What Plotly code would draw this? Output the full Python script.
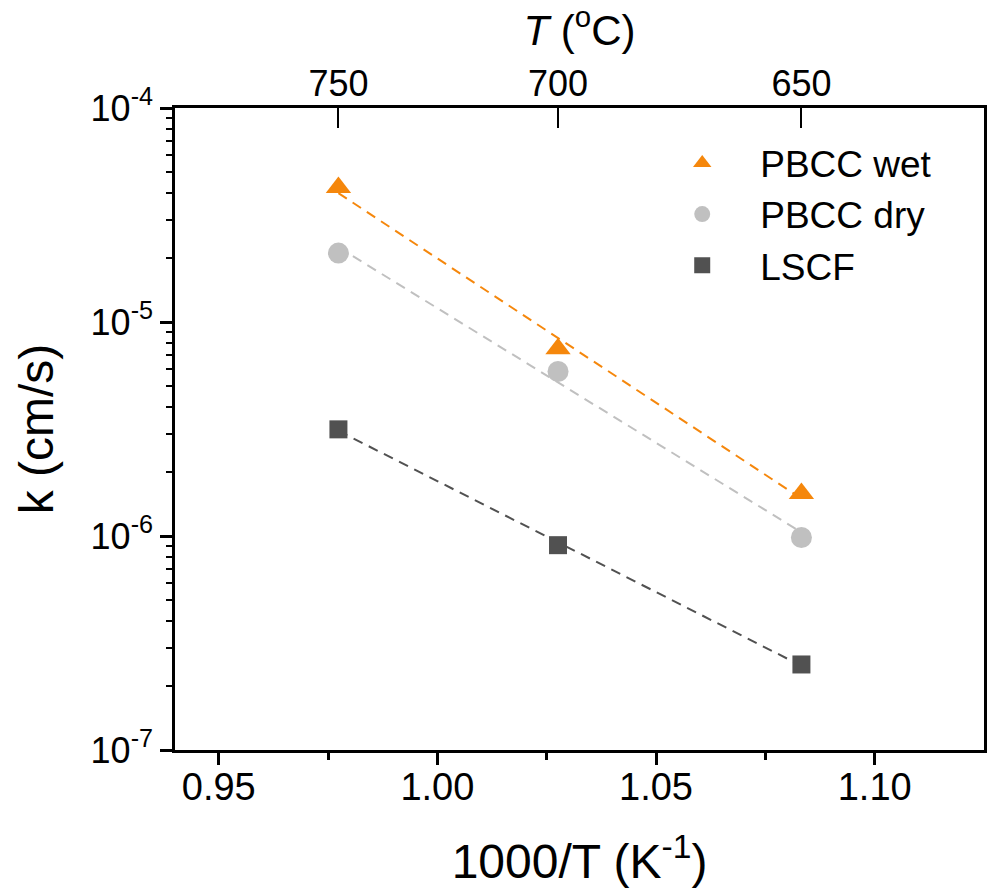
import numpy as np
import plotly.graph_objects as go

# ---- data ----
temps_c = [750, 700, 650]
inv_T = [1000.0 / (t + 273.15) for t in temps_c]
k_wet = [4.25e-5, 7.5e-6, 1.58e-6]
k_dry = [2.10e-5, 5.87e-6, 9.84e-7]
k_lscf = [3.15e-6, 9.06e-7, 2.51e-7]
series_names = ["PBCC wet", "PBCC dry", "LSCF"]
x_ticks = [0.95, 1.00, 1.05, 1.10]
y_tick_vals = [1e-7, 1e-6, 1e-5, 1e-4]
y_tick_text = ["10<sup>-7</sup>", "10<sup>-6</sup>", "10<sup>-5</sup>", "10<sup>-4</sup>"]
top_tick_text = [str(t) for t in temps_c]

FONT = "Arial, Liberation Sans, sans-serif"
colors = ["#F5870C", "#C0C0C0", "#515151"]
symbols = ["triangle-up", "circle", "square"]
sizes = [22, 21, 18]
series = [k_wet, k_dry, k_lscf]

fig = go.Figure()

# fitted Arrhenius lines (dashed)
for ks, c in zip(series, colors):
    slope, icpt = np.polyfit(inv_T, np.log10(ks), 1)
    xs = [min(inv_T), max(inv_T)]
    ys = [10 ** (slope * x + icpt) for x in xs]
    fig.add_trace(go.Scatter(x=xs, y=ys, mode="lines",
                             line=dict(color=c, width=2, dash="10px,7px"),
                             showlegend=False, hoverinfo="skip"))

for ks, c, s, sz, nm in zip(series, colors, symbols, sizes, series_names):
    fig.add_trace(go.Scatter(x=inv_T, y=ks, mode="markers", name=nm,
                             marker=dict(color=c, symbol=s, size=sz, line=dict(width=0)),
                             legendgroup=nm))

# invisible trace to activate top axis
fig.add_trace(go.Scatter(x=inv_T, y=k_wet, mode="markers", xaxis="x2",
                         marker=dict(opacity=0), showlegend=False, hoverinfo="skip"))

minor_y = [m * 10.0 ** e for e in (-7, -6, -5) for m in range(2, 10)]

fig.update_layout(
    width=992, height=890,
    margin=dict(l=175, r=5, t=108, b=140),
    paper_bgcolor="white", plot_bgcolor="white",
    font=dict(family=FONT, color="black"),
    showlegend=True,
    legend=dict(x=0.58, y=0.962, xanchor="left", yanchor="top",
                font=dict(size=37, family=FONT, color="black"),
                bgcolor="rgba(0,0,0,0)", traceorder="grouped", tracegroupgap=0,
                itemwidth=106),
    xaxis=dict(range=[0.94, 1.125], tickmode="array", tickvals=x_ticks,
               ticktext=[f"{v:.2f}" for v in x_ticks],
               ticks="outside", ticklen=12, tickwidth=2.5, tickcolor="black",
               minor=dict(ticks="outside", ticklen=7, tickwidth=2.5, tickcolor="black",
                          tickmode="array", tickvals=[0.975, 1.025, 1.075]),
               showline=True, linewidth=2.5, linecolor="black", mirror=False,
               showgrid=False, zeroline=False,
               tickfont=dict(size=38, family=FONT), ticklabelstandoff=-10,
               title=dict(text="1000/T (K<sup>-1</sup>)", font=dict(size=48, family=FONT),
                          standoff=38)),
    xaxis2=dict(range=[0.94, 1.125], overlaying="x", side="top", anchor="y",
                tickmode="array", tickvals=inv_T, ticktext=top_tick_text,
                ticks="inside", ticklen=20, tickwidth=2, tickcolor="black",
                showline=True, linewidth=2.5, linecolor="black",
                showgrid=False, zeroline=False,
                tickfont=dict(size=36, family=FONT), ticklabelstandoff=-5,
                title=dict(text="<i>T</i> (<sup>o</sup>C)", font=dict(size=42, family=FONT),
                           standoff=9)),
    yaxis=dict(type="log", range=[-7, -4], tickmode="array", tickvals=y_tick_vals,
               ticktext=y_tick_text,
               ticks="outside", ticklen=12, tickwidth=2.5, tickcolor="black",
               minor=dict(ticks="outside", ticklen=6, tickwidth=2, tickcolor="black",
                          tickmode="array", tickvals=minor_y),
               showline=True, linewidth=2.5, linecolor="black", mirror=True,
               showgrid=False, zeroline=False,
               tickfont=dict(size=36, family=FONT),
               title=dict(text="k (cm/s)", font=dict(size=48, family=FONT), standoff=22)),
)

fig.write_html("out.html")
